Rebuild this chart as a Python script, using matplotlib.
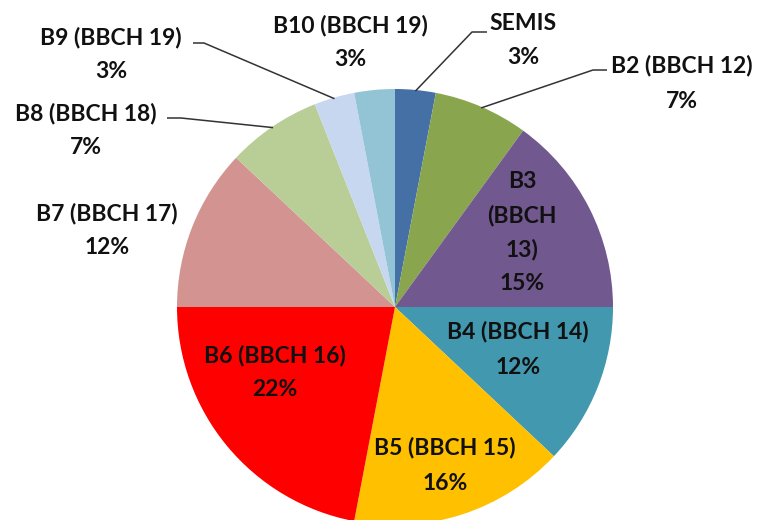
import matplotlib
matplotlib.use("Agg")
import matplotlib.pyplot as plt
import numpy as np

# ---- data ----
names = ["SEMIS", "B2 (BBCH 12)", "B3 (BBCH 13)", "B4 (BBCH 14)", "B5 (BBCH 15)",
         "B6 (BBCH 16)", "B7 (BBCH 17)", "B8 (BBCH 18)", "B9 (BBCH 19)", "B10 (BBCH 19)"]
values = [3, 7, 15, 12, 16, 22, 12, 7, 3, 3]
colors = ["#4470A6", "#89A54E", "#71588F", "#4198AF", "#FFC000",
          "#FF0000", "#D29391", "#B9CD96", "#C6D7EF", "#93C4D6"]

W, H = 773, 520
fig = plt.figure(figsize=(W / 100, H / 100), dpi=100)
ax = fig.add_axes([0, 0, 1, 1])
ax.set_xlim(0, W)
ax.set_ylim(0, H)
ax.axis("off")

cx, cy, R = 395, H - 307, 218
wedges, _ = ax.pie(values, colors=colors, startangle=90, counterclock=False,
                   center=(cx, cy), radius=R, frame=False,
                   wedgeprops=dict(linewidth=0))
ax.set_xlim(0, W)
ax.set_ylim(0, H)
ax.set_aspect("equal")

# label layout (pixel coords from top-left): first line centre
label_pos = {
    "SEMIS": (523, 23),
    "B2 (BBCH 12)": (682, 66),
    "B3 (BBCH 13)": (522, 182),
    "B4 (BBCH 14)": (518, 332),
    "B5 (BBCH 15)": (445, 448),
    "B6 (BBCH 16)": (275, 355),
    "B7 (BBCH 17)": (107, 213),
    "B8 (BBCH 18)": (86, 113),
    "B9 (BBCH 19)": (111, 37),
    "B10 (BBCH 19)": (350, 25),
}
font = dict(family=["Lato", "DejaVu Sans"], fontweight="bold", fontsize=16.5,
            color="#111111", ha="center", va="center")

for name, v in zip(names, values):
    x, y = label_pos[name]
    if name.startswith("B3"):
        lines = ["B3", "(BBCH", "13)", f"{v}%"]
        step = 33.7
    else:
        lines = [name, f"{v}%"]
        step = 35
    for i, ln in enumerate(lines):
        ax.text(x, H - (y + i * step), ln, **font)

# leader lines: (label side start, elbow) in pixel coords
leaders = {
    "SEMIS": [(487, 32), (472, 32)],
    "B2 (BBCH 12)": [(607, 70), (593, 70)],
    "B8 (BBCH 18)": [(167, 118), (181, 118)],
    "B9 (BBCH 19)": [(193, 43), (204, 43)],
}
for name, w in zip(names, wedges):
    if name in leaders:
        mid = np.deg2rad((w.theta1 + w.theta2) / 2)
        ex = cx + 0.995 * R * np.cos(mid)
        ey = cy + 0.995 * R * np.sin(mid)
        pts = leaders[name]
        xs = [p[0] for p in pts] + [ex]
        ys = [H - p[1] for p in pts] + [ey]
        ax.plot(xs, ys, color="#333333", lw=1.1, solid_capstyle="butt")

fig.savefig("out.png", dpi=100)
